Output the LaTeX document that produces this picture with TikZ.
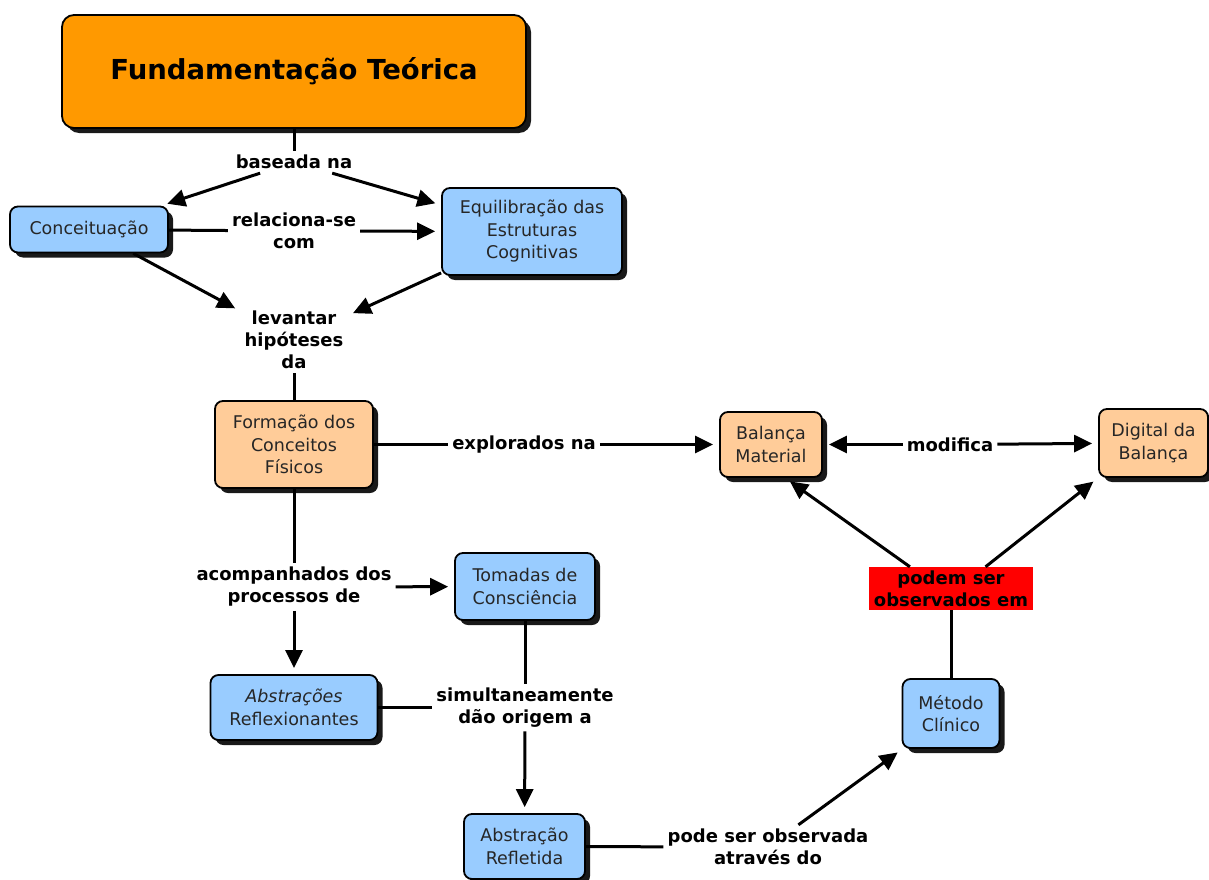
\documentclass[tikz,border=0pt]{standalone}
\usepackage{fontspec}
\setmainfont{DejaVu Sans}
\usetikzlibrary{arrows.meta,shadows,calc}

\definecolor{titleorange}{HTML}{FF9900}
\definecolor{conceptblue}{HTML}{99CCFF}
\definecolor{conceptpeach}{HTML}{FFCC99}
\definecolor{linkred}{HTML}{FF0000}

\tikzset{
  concept/.style={draw=black, line width=1.8pt, rounded corners=8pt, align=center,
    inner sep=2pt, text=black!85,
    font=\fontsize{17.5}{22.5}\selectfont,
    drop shadow={shadow xshift=5pt, shadow yshift=-5pt, fill=black!90, opacity=1}},
  bluebox/.style={concept, fill=conceptblue},
  peachbox/.style={concept, fill=conceptpeach},
  linklabel/.style={align=center, inner sep=4pt, font=\bfseries\fontsize{18}{22}\selectfont},
  link/.style={line width=3pt},
  arrowlink/.style={line width=3pt, -{Triangle[length=18pt,width=17pt]}, shorten >=6pt},
}

\begin{document}
\begin{tikzpicture}[x=1pt,y=-1pt]
\useasboundingbox[fill=white] (0,0) rectangle (1209,880);

% concepts
\node[concept, fill=titleorange, rounded corners=12pt, minimum width=464, minimum height=113,
      font=\bfseries\fontsize{27.5}{32}\selectfont, text=black] (top) at (294,71.5) {Fundamentação Teórica};
\node[bluebox, minimum width=158, minimum height=46] (conc) at (89,229.5) {Conceituação};
\node[bluebox, minimum width=180, minimum height=87] (equil) at (532,231.5) {Equilibração das\\Estruturas\\Cognitivas};
\node[peachbox, minimum width=158, minimum height=87] (form) at (294,444.5) {Formação dos\\Conceitos\\Físicos};
\node[peachbox, minimum width=102, minimum height=65] (bal) at (771,444.5) {Balança\\Material};
\node[peachbox, minimum width=109, minimum height=68] (dig) at (1153.5,443) {Digital da\\Balança};
\node[bluebox, minimum width=140, minimum height=67] (tom) at (525,586.5) {Tomadas de\\Consciência};
\node[bluebox, minimum width=167, minimum height=65] (abs) at (294,707.5) {\textit{Abstrações}\\Reflexionantes};
\node[bluebox, minimum width=121, minimum height=65] (ref) at (524.5,846.5) {Abstração\\Refletida};
\node[bluebox, minimum width=97, minimum height=69] (met) at (951,713.5) {Método\\Clínico};

% linking phrases
\node[linklabel] (l1) at (294,162) {baseada na};
\node[linklabel] (l2) at (294,231) {relaciona-se\\com};
\node[linklabel] (l3) at (294,340) {levantar\\hipóteses\\da};
\node[linklabel] (l4) at (524,444.5) {explorados na};
\node[linklabel] (l5) at (950,444.5) {modifica};
\node[linklabel, fill=linkred, inner sep=0pt, minimum width=164, minimum height=43] (red) at (951,588.5) {podem ser\\observados em};
\node[linklabel] (l6) at (294,587) {acompanhados dos\\processos de};
\node[linklabel] (l7) at (525,707.5) {simultaneamente\\dão origem a};
\node[linklabel] (l8) at (768,847) {pode ser observada\\através do};

% connectors
\draw[link] (top) -- (l1);
\draw[arrowlink] (l1) -- (conc);
\draw[arrowlink] (l1) -- (equil);
\draw[link] (conc) -- (l2);
\draw[arrowlink] (l2) -- (equil);
\draw[arrowlink] (conc) -- (l3);
\draw[arrowlink] (equil) -- (l3);
\draw[link] (l3) -- (form);
\draw[link] (form) -- (l4);
\draw[arrowlink] (l4) -- (bal);
\draw[arrowlink] (l5) -- (bal);
\draw[arrowlink] (l5) -- (dig);
\draw[arrowlink] ($(red.north west)!0.25!(red.north east)$) -- ($(bal.south)+(14,0)$);
\draw[arrowlink] ($(red.north west)!0.71!(red.north east)$) -- (dig.south west);
\draw[link] (met) -- (red);
\draw[link] (form) -- (l6);
\draw[arrowlink] (l6) -- (abs);
\draw[arrowlink] (l6) -- (tom);
\draw[link] (tom) -- (l7);
\draw[link] (abs) -- (l7);
\draw[arrowlink] (l7) -- (ref);
\draw[link] (ref) -- (l8);
\draw[arrowlink] (l8) -- (met);
\end{tikzpicture}
\end{document}
